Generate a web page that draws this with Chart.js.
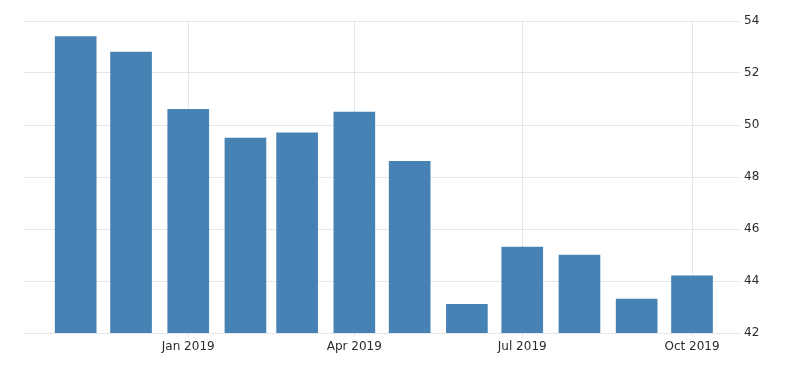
<!DOCTYPE html>
<html lang="en">
<head>
    <meta charset="UTF-8">
    <title>Monthly Index</title>
    <script src="https://cdn.jsdelivr.net/npm/chart.js"></script>
    <style>
        body {
            margin: 0;
            background: #fff;
        }
        #wrap {
            width: 800px;
            height: 373px;
        }
    </style>
</head>
<body>

<div id="wrap"><canvas id="indexChart"></canvas></div>

<script>
    // months shown as bars, and their values
    const months = ['2018-11', '2018-12', '2019-01', '2019-02', '2019-03', '2019-04',
                    '2019-05', '2019-06', '2019-07', '2019-08', '2019-09', '2019-10'];
    const values = [53.4, 52.8, 50.6, 49.5, 49.7, 50.5, 48.6, 43.1, 45.3, 45.0, 43.3, 44.2];

    // x axis labels
    const tickMonths = ['2019-01', '2019-04', '2019-07', '2019-10'];
    const tickLabels = ['Jan 2019', 'Apr 2019', 'Jul 2019', 'Oct 2019'];

    // y axis
    const yTicks = [42, 44, 46, 48, 50, 52, 54];

    // days counted from 1 Jan 2019
    function dayOf(m) {
        const p = m.split('-');
        return (Date.UTC(+p[0], +p[1] - 1, 1) - Date.UTC(2019, 0, 1)) / 86400000;
    }

    const points = months.map((m, i) => ({ x: dayOf(m), y: values[i] }));
    const tickDays = tickMonths.map(dayOf);

    const gridColor = '#e6e6e6';
    const textColor = '#2b2b2b';

    const ctx = document.getElementById('indexChart').getContext('2d');
    const indexChart = new Chart(ctx, {
        type: 'bar',
        data: {
            datasets: [{
                data: points,
                backgroundColor: '#4682b4',
                borderWidth: 0,
                barThickness: 41
            }]
        },
        options: {
            responsive: true,
            maintainAspectRatio: false,
            animation: false,
            layout: {
                padding: { left: 24, top: 21, right: 0, bottom: 0 }
            },
            plugins: {
                legend: { display: false },
                tooltip: { enabled: false }
            },
            scales: {
                x: {
                    type: 'linear',
                    min: -89,
                    max: 299,
                    offset: false,
                    afterBuildTicks: (scale) => {
                        scale.ticks = tickDays.map(v => ({ value: v }));
                    },
                    afterFit: (scale) => {
                        scale.height = 40;
                    },
                    grid: {
                        offset: false,
                        color: gridColor,
                        tickLength: 4
                    },
                    border: { color: gridColor },
                    ticks: {
                        padding: 3,
                        color: textColor,
                        font: { family: 'DejaVu Sans', size: 12 },
                        maxRotation: 0,
                        callback: (v) => tickLabels[tickDays.indexOf(v)]
                    }
                },
                y: {
                    position: 'right',
                    min: 42,
                    max: 54,
                    afterBuildTicks: (scale) => {
                        scale.ticks = yTicks.map(v => ({ value: v }));
                    },
                    afterFit: (scale) => {
                        scale.width = 60;
                    },
                    grid: {
                        color: gridColor,
                        drawTicks: false
                    },
                    border: { display: false },
                    ticks: {
                        padding: 4,
                        color: textColor,
                        font: { family: 'DejaVu Sans', size: 12 }
                    }
                }
            }
        }
    });
</script>

</body>
</html>
